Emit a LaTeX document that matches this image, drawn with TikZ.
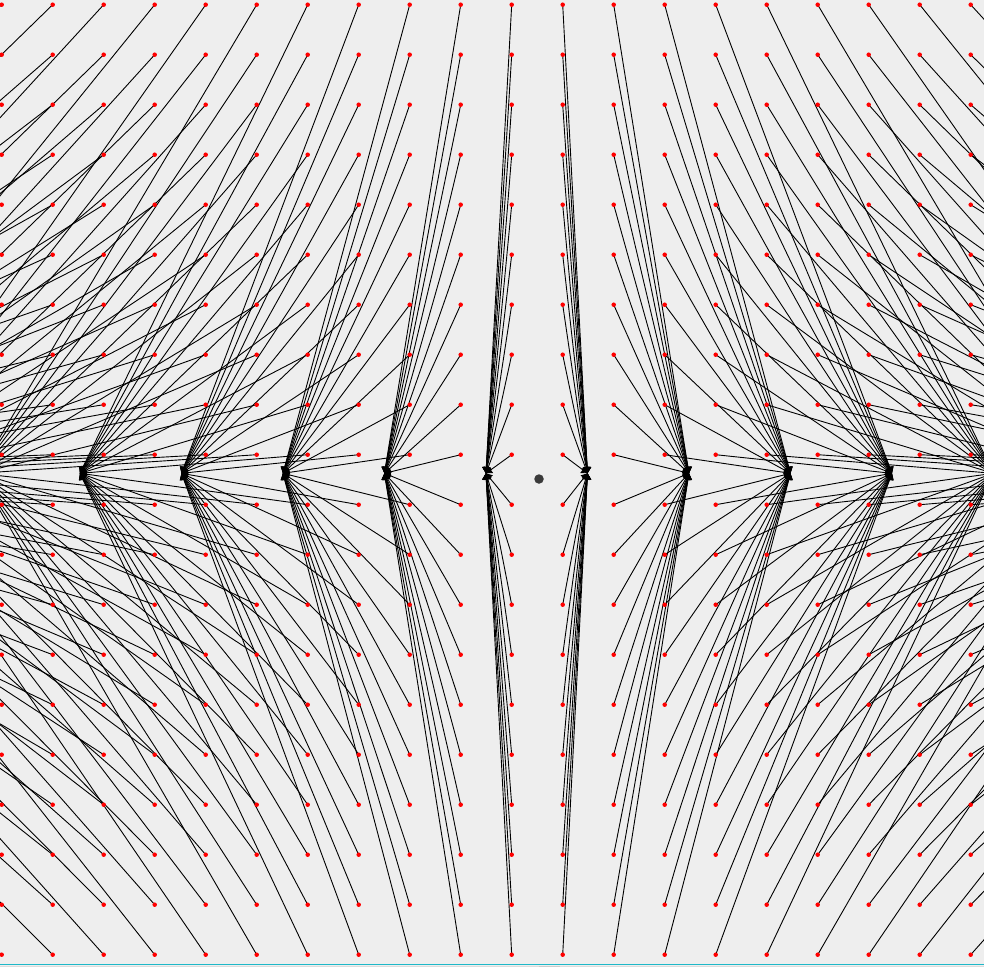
\documentclass[tikz,border=0pt]{standalone}
\usetikzlibrary{arrows.meta}
\definecolor{bgc}{HTML}{EEEEEE}
\definecolor{dotred}{HTML}{FF0000}
\definecolor{centerc}{HTML}{3A3A3A}
\definecolor{barcyan}{HTML}{1FB8C8}
\definecolor{bargray}{HTML}{DCDCDC}
\definecolor{bardark}{HTML}{CCCCCC}
\tikzset{
  gdot/.style={circle,fill=dotred,draw=none,inner sep=0pt,minimum size=4.5pt},
  conn/.style={draw=black,line width=0.9pt,-{Triangle[length=6pt,width=8pt]}},
  cdot/.style={circle,fill=centerc,draw=none,inner sep=0pt,minimum size=9.5pt}
}
\begin{document}
\begin{tikzpicture}[x=1pt,y=-1pt]
\useasboundingbox (0,0) rectangle (984,967);
\fill[bgc] (0,0) rectangle (984,967);
\clip (0,0) rectangle (984,967);
% hubs
\foreach \i in {0,...,19}{
  \coordinate (h-\i) at ({536.7+101.5*(\i-10.5)},473.3);
}
% grid points
\foreach \i in {0,...,19}{
  \foreach \j in {0,...,19}{
    \coordinate (p-\i-\j) at ({1.7+51*\i},{4.7+50*\j});
  }
}
% connectors
\foreach \i in {0,...,19}{
  \foreach \j in {0,...,19}{
    \draw[conn] (p-\i-\j) -- (h-\i);
  }
}
% dots
\foreach \i in {0,...,19}{
  \foreach \j in {0,...,19}{
    \node[gdot] (d-\i-\j) at (p-\i-\j) {};
  }
}
\node[cdot] (centre) at (539,479) {};
% bottom bar
\fill[bargray] (0,965.5) rectangle (984,967);
\fill[bardark] (539,965.5) rectangle (560,967);
\draw[barcyan,line width=1.6pt] (0,964.5) -- (984,964.5);
\end{tikzpicture}
\end{document}
